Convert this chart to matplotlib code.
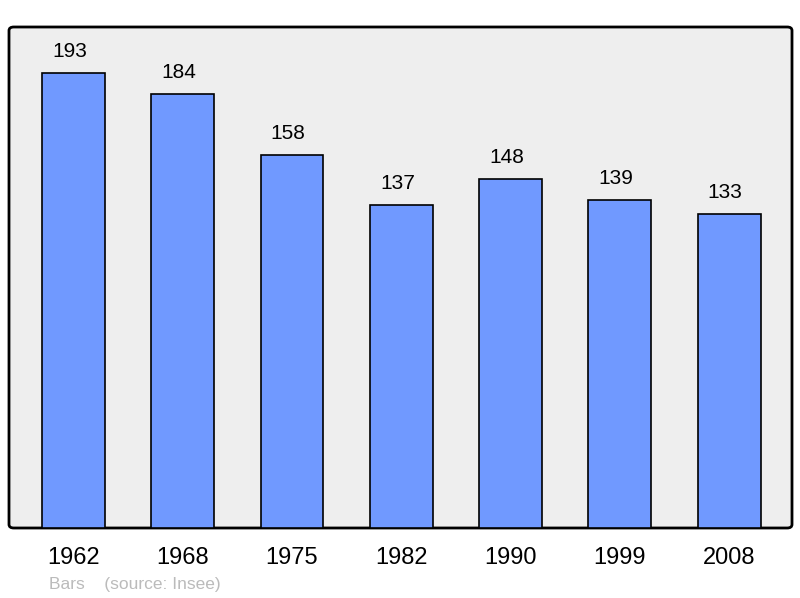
import matplotlib
matplotlib.use('Agg')
import matplotlib.pyplot as plt
from matplotlib.patches import FancyBboxPatch

years = ['1962', '1968', '1975', '1982', '1990', '1999', '2008']
population = [193, 184, 158, 137, 148, 139, 133]

BAR_COLOR = '#7099ff'
BG_COLOR = '#eeeeee'

plt.rcParams['font.family'] = ['Liberation Sans', 'DejaVu Sans']

fig = plt.figure(figsize=(8, 5.98), dpi=100)
ax = fig.add_axes([9 / 800, 70 / 598, 783 / 800, 501 / 598])
ax.set_facecolor('none')
ax.set_zorder(2)

# rounded frame behind the plot
frame = FancyBboxPatch((9 / 800, 70 / 598), 783 / 800, 501 / 598,
                       boxstyle='round,pad=0,rounding_size=0.006',
                       transform=fig.transFigure, facecolor=BG_COLOR,
                       edgecolor='black', linewidth=2, zorder=0)
fig.patches.append(frame)

x = list(range(len(years)))
ax.bar(x, population, width=0.575, color=BAR_COLOR, edgecolor='black',
       linewidth=1.2, zorder=2)

for xi, v in zip(x, population):
    ax.annotate(str(v), (xi, v), xytext=(-4, 12), textcoords='offset pixels',
                ha='center', va='bottom', fontsize=15, color='black')

ax.set_xlim(-0.59, 6.575)
ax.set_ylim(0, 212.5)
ax.set_yticks([])
ax.set_xticks(x)
ax.set_xticklabels(years, fontsize=17)
ax.tick_params(axis='x', length=0, pad=14)
for s in ax.spines.values():
    s.set_visible(False)

fig.text(49 / 800, 1 - 584 / 598, 'Bars    (source: Insee)', fontsize=12.5,
         color='#bbbbbb', ha='left', va='center')

fig.savefig('out.png', dpi=100)
